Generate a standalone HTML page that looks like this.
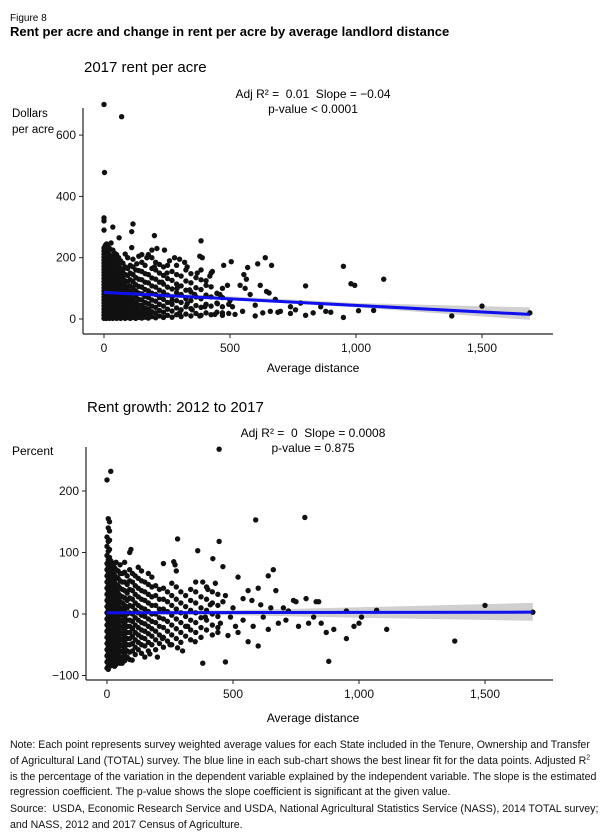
<!DOCTYPE html>
<html><head><meta charset="utf-8"><style>
html,body{margin:0;padding:0;background:#fff;}
body{width:600px;height:833px;overflow:hidden;font-family:"Liberation Sans",Arial,sans-serif;color:#111;}
svg{position:absolute;left:0;top:0;}
text{white-space:pre;}
.note{position:absolute;left:10px;width:590px;font-size:10.6px;line-height:15.8px;color:#111;white-space:nowrap;}
</style></head><body>
<svg width="600" height="833" id="fig">
<text x="10" y="21" font-size="10">Figure 8</text>
<text x="10" y="36" font-size="13" font-weight="bold">Rent per acre and change in rent per acre by average landlord distance</text>
<text x="84" y="72" font-size="15">2017 rent per acre</text>
<text x="313" y="98" font-size="12" text-anchor="middle" xml:space="preserve">Adj R² =  0.01  Slope = −0.04</text>
<text x="313" y="113" font-size="12" text-anchor="middle">p-value &lt; 0.0001</text>
<text x="12" y="117" font-size="11.5">Dollars</text>
<text x="12" y="133" font-size="11.5">per acre</text>
<text x="313" y="372" font-size="12" text-anchor="middle">Average distance</text>
<text x="87" y="412" font-size="15">Rent growth: 2012 to 2017</text>
<text x="313" y="437" font-size="12" text-anchor="middle" xml:space="preserve">Adj R² =  0  Slope = 0.0008</text>
<text x="313" y="452" font-size="12" text-anchor="middle">p-value = 0.875</text>
<text x="12" y="455" font-size="12">Percent</text>
<text x="313" y="722" font-size="12" text-anchor="middle">Average distance</text>
<g id="top"></g>
<g id="bot"></g>
</svg>
<div class="note" style="top:738px">Note: Each point represents survey weighted average values for each State included in the Tenure, Ownership and Transfer<br>of Agricultural Land (TOTAL) survey. The blue line in each sub-chart shows the best linear fit for the data points. Adjusted R<sup style="font-size:7px;line-height:0">2</sup><br>is the percentage of the variation in the dependent variable explained by the independent variable. The slope is the estimated<br>regression coefficient. The p-value shows the slope coefficient is significant at the given value.</div>
<div class="note" style="top:802px">Source:&nbsp; USDA, Economic Research Service and USDA, National Agricultural Statistics Service (NASS), 2014 TOTAL survey;<br>and NASS, 2012 and 2017 Census of Agriculture.</div>
<script>
// ---- data: top chart (distance, rent $/acre) ----
const rentOutliers = [[0,700],[70,660],[2,478],[0,330],[0,320],[0,290],[35,300],[115,310],[110,285],[60,265],[200,272],[385,255],[110,233],[640,200],[610,180],[665,175],[505,187],[475,175],[570,168],[950,172],[980,115],[995,110],[1110,130],[800,108],[1500,42],[1380,10],[1690,20],[1010,27],[1070,28],[950,5],[900,22],[880,25],[860,40],[830,20],[800,12],[780,52],[760,30],[740,40],[740,18],[700,25],[690,22],[680,64],[655,85],[645,90],[620,110],[600,45],[580,80],[560,100],[565,130],[555,145],[540,110],[510,40],[490,110],[460,80],[470,20],[430,155],[420,140],[405,125],[390,200],[380,205],[370,150],[360,80],[340,95],[330,170],[320,185],[300,195],[280,200],[260,190],[240,225],[210,230],[190,225],[250,150],[230,120],[270,60],[300,20],[350,30],[400,40],[440,15],[380,10],[330,50],[290,100],[200,170],[170,200],[150,210],[130,180],[520,15],[550,25],[600,10],[630,20],[660,25],[500,60],[450,50]];
const rentCols = [[0,[2,12,22,32,42,52,62,72,82,92,102,112,122,132,142,152,162,172,182,192,202,212,222,232]],[5,[5,15,25,35,45,55,65,75,85,95,105,115,125,135,145,155,165,175,185,195,205,215,225,240]],[10,[2,12,22,32,42,52,62,72,82,92,102,112,122,132,142,152,162,172,182,192,202,212,225,245]],[16,[5,15,25,35,45,55,65,75,85,95,105,115,125,135,145,155,165,175,185,195,205,218,235]],[22,[2,12,22,32,42,52,62,72,82,92,102,112,122,132,142,152,162,172,182,195,210,230]],[28,[5,15,25,35,45,55,65,75,85,95,105,115,125,135,145,155,168,185,205,248]],[35,[2,12,22,32,42,52,62,72,82,92,102,112,122,132,145,160,178,200,225]],[42,[5,15,25,35,45,55,65,75,85,95,105,115,128,142,158,175,195,215]],[50,[2,12,22,32,42,52,62,72,82,92,102,115,130,148,165,188,210]],[58,[5,15,25,35,45,55,65,75,85,95,108,122,138,155,175,200]],[66,[2,12,22,32,42,52,62,72,84,98,112,128,145,165,190]],[75,[5,15,25,35,45,55,65,78,92,106,120,138,158,182]],[84,[2,12,22,32,42,52,64,78,92,108,125,145,170,212]],[94,[5,15,25,35,45,58,72,88,104,122,142,165,200]],[104,[2,12,22,32,44,58,74,90,108,128,150,175]],[115,[5,15,25,37,50,66,84,102,122,145,170,195]],[126,[2,12,24,38,54,72,92,112,135,160]],[138,[5,16,30,46,64,84,106,130,158,205]],[150,[3,14,28,44,62,82,104,128,155,185]],[163,[6,20,36,54,74,96,120,148,175]],[176,[3,16,32,50,70,92,118,145,210]],[190,[8,24,42,62,84,108,134,165,200]],[205,[4,20,38,58,80,104,130,160,185]],[220,[10,28,48,70,94,120,150,178]],[236,[5,22,42,64,88,114,142,170]],[252,[12,32,54,78,104,132,175]],[270,[6,26,48,72,98,126,155]],[288,[14,36,60,86,114,145,175]],[306,[8,30,54,80,108,140]],[325,[16,40,66,94,124,160]],[345,[10,34,60,88,118,148]],[365,[18,44,72,102,135]],[385,[12,38,66,96,128,160]],[405,[20,48,78,110]],[425,[14,42,72,105,150]],[448,[22,52,84]],[470,[12,40,70,100]],[495,[18,48]]];
const rentFit = [[0,87],[1690,15]];
const rentBand = [[0,80,94],[500,62,74],[1000,38,52],[1690,-3,38]];
const topXTicks = [0,500,1000,1500];
const topXTickLabels = ["0","500","1,000","1,500"];
const topYTicks = [0,200,400,600];
const topYTickLabels = ["0","200","400","600"];
// ---- data: bottom chart (distance, rent growth %) ----
const growthOutliers = [[445,268],[15,232],[0,218],[590,153],[785,157],[5,155],[10,150],[10,135],[280,122],[445,118],[360,103],[420,90],[460,77],[95,105],[265,85],[270,80],[640,62],[660,72],[670,38],[600,42],[560,38],[575,22],[610,15],[700,10],[740,22],[750,20],[790,25],[830,20],[840,20],[950,5],[1070,6],[1500,14],[1690,3],[800,-15],[760,-20],[820,-5],[850,-15],[870,-30],[900,-25],[950,-40],[980,-20],[1000,-15],[1010,-5],[1110,-25],[1380,-44],[880,-77],[470,-78],[380,-80],[600,-52],[560,-45],[520,-30],[480,-35],[640,-25],[680,-15],[540,-10],[500,10],[470,30],[430,50],[400,40],[380,52],[350,-45],[320,-20],[300,-60],[280,-55],[250,-50],[220,-40],[200,-70],[170,-65],[150,-70],[100,-75],[60,-80],[30,-85],[5,-90],[620,-5],[580,-20],[650,10],[720,5],[710,-10],[540,25],[520,60],[450,-15],[410,15],[390,-5],[490,-5],[510,-20],[460,20],[440,-30]];
const growthCols = [[0,[-88,-78,-68,-58,-48,-38,-28,-18,-8,2,12,22,32,42,52,62,72,82,95,110,125]],[5,[-84,-74,-64,-54,-44,-34,-24,-14,-4,6,16,26,36,46,56,66,76,88,102,118,140]],[10,[-80,-70,-60,-50,-40,-30,-20,-10,0,10,20,30,40,50,60,70,80,92,105,120]],[16,[-84,-74,-64,-54,-44,-34,-24,-14,-4,6,16,26,36,46,56,66,76,86]],[22,[-80,-70,-60,-50,-40,-30,-20,-10,0,10,20,30,40,50,60,70,82]],[29,[-76,-66,-56,-46,-36,-26,-16,-6,4,14,24,34,44,54,64,76]],[36,[-82,-72,-62,-52,-42,-32,-22,-12,-2,8,18,28,38,48,60,72,84]],[44,[-76,-66,-56,-46,-36,-26,-16,-6,4,14,24,34,46,58,70]],[52,[-80,-70,-60,-50,-40,-30,-20,-10,0,10,20,30,42,54,66,80]],[61,[-72,-62,-52,-42,-32,-22,-12,-2,8,18,28,40,52,66]],[70,[-76,-66,-56,-46,-36,-26,-16,-6,4,14,26,38,52,68,84]],[80,[-70,-60,-50,-40,-30,-20,-10,0,10,22,34,48,62]],[90,[-74,-62,-50,-40,-30,-20,-10,2,14,26,40,54,72,100]],[101,[-60,-48,-36,-24,-12,0,12,24,38,52,66]],[112,[-66,-54,-42,-30,-18,-6,6,18,32,46,62]],[124,[-58,-46,-34,-22,-10,2,14,28,42,58,76]],[137,[-64,-50,-38,-26,-14,-2,10,24,38,54,70]],[150,[-52,-40,-28,-16,-4,8,22,36,52]],[164,[-60,-46,-32,-20,-8,4,18,32,48,66]],[178,[-50,-36,-24,-12,0,14,28,44,60]],[193,[-58,-42,-28,-14,0,14,30,46]],[208,[-48,-34,-20,-6,8,24,40]],[224,[-54,-38,-22,-8,8,24,42,82]],[240,[-44,-28,-12,4,20,36]],[257,[-50,-34,-18,-2,14,30,50]],[275,[-40,-24,-8,8,24,44,70]],[293,[-46,-30,-14,2,18,36]],[312,[-36,-20,-4,12,30]],[332,[-42,-26,-10,6,22,40]],[352,[-30,-14,2,18,36,52]],[373,[-38,-22,-6,10,28]],[395,[-26,-10,6,24,44]],[418,[-34,-18,0,18,36]],[440,[-22,-4,14,32]]];
const growthFit = [[0,2],[1690,3]];
const growthBand = [[0,-1,5],[500,-2,6],[1000,-6,11],[1690,-11,18]];
const botXTicks = [0,500,1000,1500];
const botXTickLabels = ["0","500","1,000","1,500"];
const botYTicks = [-100,0,100,200];
const botYTickLabels = ["\u2212100","0","100","200"];

const NS="http://www.w3.org/2000/svg";
function mk(parent,tag,attrs){const e=document.createElementNS(NS,tag);for(const k in attrs)e.setAttribute(k,attrs[k]);parent.appendChild(e);return e;}

function drawChart(g,cfg){
  const sx=v=>cfg.x0+v*cfg.kx, sy=v=>cfg.y0-v*cfg.ky;
  const top=cfg.band.map(b=>sx(b[0])+","+sy(b[2])).join(" ");
  const bot=cfg.band.slice().reverse().map(b=>sx(b[0])+","+sy(b[1])).join(" ");
  const poly=mk(g,"polygon",{points:top+" "+bot,fill:"#d0d0d0"});
  
  
  const pts=[];
  cfg.cols.forEach(c=>c[1].forEach(y=>pts.push([c[0],y])));
  cfg.outliers.forEach(p=>pts.push(p));
  pts.forEach(p=>{
    const c=mk(g,"circle",{cx:sx(p[0]),cy:sy(p[1]),r:2.7,fill:"#111"});
    
    
  });
  const ln=mk(g,"line",{x1:sx(cfg.fit[0][0]),y1:sy(cfg.fit[0][1]),x2:sx(cfg.fit[1][0]),y2:sy(cfg.fit[1][1]),stroke:"#1010ee","stroke-width":3});
  
  
  const ya=mk(g,"line",{x1:cfg.ax,y1:cfg.ayTop,x2:cfg.ax,y2:cfg.axisY,stroke:"#222","stroke-width":1.2});
  
  
  const xa=mk(g,"line",{x1:cfg.ax,y1:cfg.axisY,x2:553,y2:cfg.axisY,stroke:"#222","stroke-width":1.2});
  
  
  cfg.xt.forEach((v,i)=>{
    mk(g,"line",{x1:sx(v),y1:cfg.axisY,x2:sx(v),y2:cfg.axisY+4,stroke:"#222"});
    const t=mk(g,"text",{x:sx(v),y:cfg.axisY+18,"font-size":12,"text-anchor":"middle",fill:"#111"});
    t.textContent=cfg.xl[i];
    
    
  });
  cfg.yt.forEach((v,i)=>{
    mk(g,"line",{x1:cfg.ax-4,y1:sy(v),x2:cfg.ax,y2:sy(v),stroke:"#222"});
    const t=mk(g,"text",{x:cfg.ax-7,y:sy(v)+4,"font-size":12,"text-anchor":"end",fill:"#111"});
    t.textContent=cfg.yl[i];
    
    
  });
}
drawChart(document.getElementById('top'),{x0:104,kx:126/500,y0:319,ky:61.3/200,ax:83,ayTop:108,axisY:334,
  band:rentBand,cols:rentCols,outliers:rentOutliers,fit:rentFit,xt:topXTicks,xl:topXTickLabels,yt:topYTicks,yl:topYTickLabels});
drawChart(document.getElementById('bot'),{x0:107,kx:126/500,y0:614,ky:61.5/100,ax:86,ayTop:447,axisY:680,
  band:growthBand,cols:growthCols,outliers:growthOutliers,fit:growthFit,xt:botXTicks,xl:botXTickLabels,yt:botYTicks,yl:botYTickLabels});
</script>
</body></html>
